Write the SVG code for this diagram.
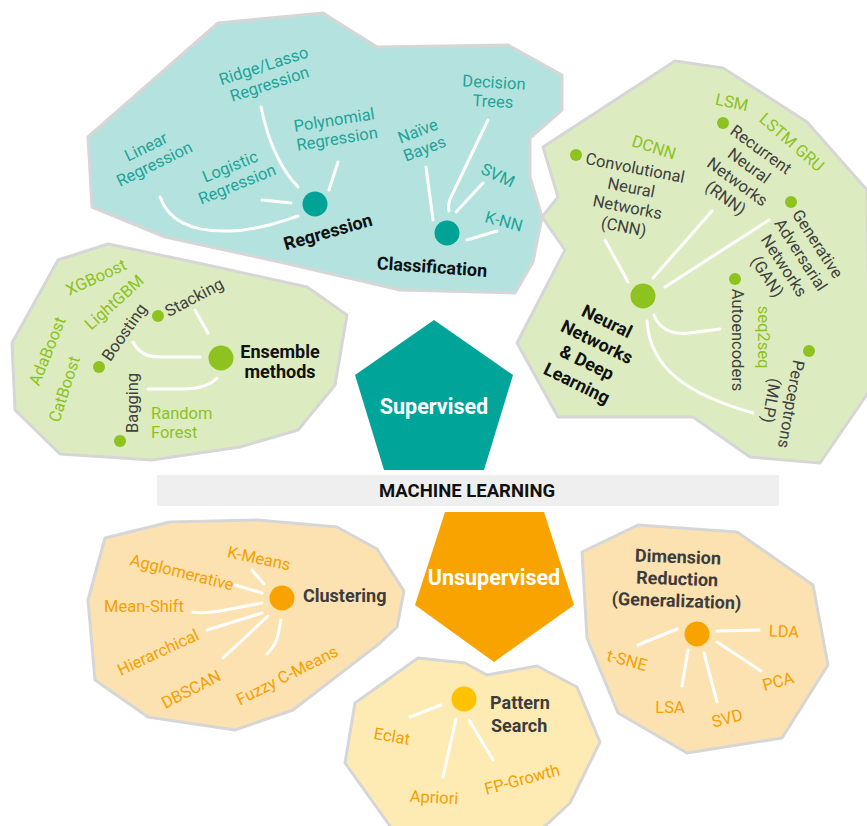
<svg xmlns="http://www.w3.org/2000/svg" width="867" height="826" viewBox="0 0 867 826">
<style>
.rg{stroke:#d6d6d6;stroke-width:3;stroke-linejoin:round}
.teal{fill:#b4e3df}.grn{fill:#ddecc0}.org{fill:#fde2b1}.yel{fill:#feebb3}
.ln{stroke:#fff;stroke-width:3;fill:none;stroke-linecap:round}
text{font-family:Roboto,"Liberation Sans",sans-serif;font-size:16.5px}
.tt{fill:#1fa398}.tg{fill:#8cc21f}.td{fill:#404040}.to{fill:#f5a000}
.b{font-weight:bold;font-size:18px;fill:#111}
.bd{font-weight:bold;font-size:18px;fill:#3c3c3c}
.m{text-anchor:middle}
.w{font-weight:bold;font-size:21.5px;fill:#fff;text-anchor:middle}
</style>
<rect width="867" height="826" fill="#fff"/>
<g id="regions">
<polygon class="rg teal" points="88,137 218,23 323,13 377,47 508,45 562,75 562,110 530,138 530,177 542,217 533,262 515,293 400,290 280,262 165,237 92,207"/>
<polygon class="rg grn" points="543,147 675,61 723,68 807,122 867,190 870,390 820,463 750,457 693,417 558,417 517,343 565,250 542,217 558,197"/>
<polygon class="rg grn" points="12,343 58,260 108,244 198,263 307,287 347,315 335,385 298,430 240,447 152,460 60,454 15,410"/>
<polygon class="rg org" points="105,538 170,522 257,520 337,527 377,549 404,591 397,627 380,643 293,710 235,730 148,717 95,680 88,600"/>
<polygon class="rg yel" points="355,703 418,658 465,663 487,675 537,666 577,687 600,742 570,803 530,840 400,840 345,763"/>
<polygon class="rg org" points="582,552 638,525 737,532 813,585 828,665 782,738 687,753 618,713 587,638"/>
</g>
<g id="connectors">
<path class="ln" d="M160,197 C170,225 200,232 230,231 C260,230 285,220 298,216"/>
<path class="ln" d="M262,200 L291,203"/>
<path class="ln" d="M261,107 Q272,160 298,187"/>
<path class="ln" d="M338,162 L329,190"/>
<path class="ln" d="M426,167 L433,220"/>
<path class="ln" d="M488,120 L452,195 Q447,205 449,211"/>
<path class="ln" d="M483,183 L456,212"/>
<path class="ln" d="M497,231 L467,240"/>
<path class="ln" d="M605,240 L628,282"/>
<path class="ln" d="M712,211 L653,278"/>
<path class="ln" d="M769,220 L665,287"/>
<path class="ln" d="M654,315 Q662,336 690,333 L720,329"/>
<path class="ln" d="M647,321 C650,370 690,395 753,413"/>
<path class="ln" d="M195,310 L208,333"/>
<path class="ln" d="M133,342 Q140,357 160,357 L200,357"/>
<path class="ln" d="M148,389 L185,389 Q208,388 217,378"/>
<path class="ln" d="M252,570 L264,584"/>
<path class="ln" d="M235,585 L262,593"/>
<path class="ln" d="M193,612 Q205,614 225,610 L262,603"/>
<path class="ln" d="M207,630 L262,613"/>
<path class="ln" d="M223,658 L268,616"/>
<path class="ln" d="M267,654 Q276,645 278,635 L281,620"/>
<path class="ln" d="M410,717 L441,705"/>
<path class="ln" d="M443,777 L456,719"/>
<path class="ln" d="M493,760 L469,720"/>
<path class="ln" d="M717,631 L759,630"/>
<path class="ln" d="M638,645 L677,629"/>
<path class="ln" d="M688,650 L682,686"/>
<path class="ln" d="M704,653 L717,702"/>
<path class="ln" d="M717,642 L761,671"/>
</g>
<g id="supervised">
<polygon points="434,320 513,375 484,470 384,470 355,375" fill="#00a499"/>
<text class="w" x="434" y="414">Supervised</text>
</g>
<g id="machine-learning">
<rect x="157" y="475" width="622" height="31" fill="#efefef"/>
<text x="467" y="497" text-anchor="middle" style="font-weight:bold;font-size:18.5px;fill:#111">MACHINE LEARNING</text>
</g>
<g id="unsupervised">
<polygon points="445,512 544,512 574,605 494,662 415,605" fill="#f8a300"/>
<text class="w" x="494" y="585">Unsupervised</text>
</g>
<g id="regression">
<circle cx="315" cy="204" r="12.5" fill="#00a396"/>
<text class="b m" transform="translate(328,232) rotate(-16)" y="6">Regression</text>
<text class="tt m" transform="translate(150,155) rotate(-26)"><tspan x="0" y="-3.5">Linear</tspan><tspan x="0" y="15.5">Regression</tspan></text>
<text class="tt m" transform="translate(266.5,74.5) rotate(-18)"><tspan x="0" y="-3.5">Ridge/Lasso</tspan><tspan x="0" y="15.5">Regression</tspan></text>
<text class="tt m" transform="translate(335.5,129) rotate(-9)"><tspan x="0" y="-3.5">Polynomial</tspan><tspan x="0" y="15.5">Regression</tspan></text>
<text class="tt m" transform="translate(233.5,175) rotate(-22)"><tspan x="0" y="-3.5">Logistic</tspan><tspan x="0" y="15.5">Regression</tspan></text>
</g>
<g id="classification">
<circle cx="447" cy="233" r="12.5" fill="#00a396"/>
<text class="b m" transform="translate(432,267) rotate(4)" y="6">Classification</text>
<text class="tt m" transform="translate(421,139.5) rotate(-21)"><tspan x="0" y="-3.5">Naïve</tspan><tspan x="0" y="15.5">Bayes</tspan></text>
<text class="tt m" transform="translate(493.5,91.5) rotate(3)"><tspan x="0" y="-3.5">Decision</tspan><tspan x="0" y="15.5">Trees</tspan></text>
<text class="tt m" transform="translate(498,175) rotate(25)" y="6">SVM</text>
<text class="tt m" transform="translate(504,221) rotate(15)" y="6">K-NN</text>
</g>
<g id="neural-networks">
<circle cx="643" cy="296" r="12.5" fill="#8dc21f"/>
<text class="b m" transform="translate(592,352) rotate(26)"><tspan x="0" y="-28">Neural</tspan><tspan x="0" y="-5">Networks</tspan><tspan x="0" y="18">&amp; Deep</tspan><tspan x="0" y="41">Learning</tspan></text>
<circle cx="576" cy="155" r="6" fill="#8dc21f"/>
<text class="td m" transform="translate(629.5,197) rotate(11)"><tspan x="0" y="-24">Convolutional</tspan><tspan x="0" y="-4">Neural</tspan><tspan x="0" y="16">Networks</tspan><tspan x="0" y="36">(CNN)</tspan></text>
<circle cx="723" cy="123" r="6" fill="#8dc21f"/>
<text class="td m" transform="translate(743.5,173.5) rotate(36)"><tspan x="0" y="-24">Recurrent</tspan><tspan x="0" y="-4">Neural</tspan><tspan x="0" y="16">Networks</tspan><tspan x="0" y="36">(RNN)</tspan></text>
<circle cx="791" cy="202" r="6" fill="#8dc21f"/>
<text class="td m" transform="translate(792.75,260) rotate(57)"><tspan x="0" y="-24">Generative</tspan><tspan x="0" y="-4">Adversarial</tspan><tspan x="0" y="16">Networks</tspan><tspan x="0" y="36">(GAN)</tspan></text>
<circle cx="735" cy="279" r="6" fill="#8dc21f"/>
<text class="td m" transform="translate(738,340) rotate(90)" y="6">Autoencoders</text>
<circle cx="809" cy="351" r="6" fill="#8dc21f"/>
<text class="td m" transform="translate(781.5,402.5) rotate(100)"><tspan x="0" y="-4">Perceptrons</tspan><tspan x="0" y="16">(MLP)</tspan></text>
<text class="tg m" transform="translate(764,337) rotate(90)" y="6">seq2seq</text>
<text class="tg m" transform="translate(654,147) rotate(18)" y="6">DCNN</text>
<text class="tg m" transform="translate(732,102) rotate(12)" y="6">LSM</text>
<text class="tg m" transform="translate(792,142) rotate(41)" y="6">LSTM GRU</text>
</g>
<g id="ensemble">
<circle cx="221" cy="358" r="12.5" fill="#8dc21f"/>
<text class="b m" x="280" y="358">Ensemble</text>
<text class="b m" x="280" y="378">methods</text>
<circle cx="158" cy="316" r="6" fill="#8dc21f"/>
<text class="td m" transform="translate(194,297) rotate(-28)" y="6">Stacking</text>
<circle cx="99" cy="367" r="6" fill="#8dc21f"/>
<text class="td m" transform="translate(124,332) rotate(-55)" y="6">Boosting</text>
<circle cx="120" cy="441" r="6" fill="#8dc21f"/>
<text class="td m" transform="translate(132,403) rotate(-90)" y="6">Bagging</text>
<text class="tg m" transform="translate(96,277) rotate(-25)" y="6">XGBoost</text>
<text class="tg m" transform="translate(114,302) rotate(-42)" y="6">LightGBM</text>
<text class="tg m" transform="translate(47,351) rotate(-68)" y="6">AdaBoost</text>
<text class="tg m" transform="translate(64,389) rotate(-72)" y="6">CatBoost</text>
<text class="tg" x="151" y="419">Random</text>
<text class="tg" x="151" y="438">Forest</text>
</g>
<g id="clustering">
<circle cx="282" cy="598" r="12.5" fill="#f8a300"/>
<text class="bd" x="303" y="602">Clustering</text>
<text class="to m" transform="translate(259,558) rotate(12)" y="6">K-Means</text>
<text class="to m" transform="translate(182,572) rotate(14)" y="6">Agglomerative</text>
<text class="to m" x="144" y="612">Mean-Shift</text>
<text class="to m" transform="translate(158,652) rotate(-25)" y="6">Hierarchical</text>
<text class="to m" transform="translate(191,689) rotate(-27)" y="6">DBSCAN</text>
<text class="to m" transform="translate(287,675) rotate(-27)" y="6">Fuzzy C-Means</text>
</g>
<g id="pattern-search">
<circle cx="464" cy="699" r="12.5" fill="#fdc200"/>
<text class="bd" x="490" y="709">Pattern</text>
<text class="bd" x="491" y="732">Search</text>
<text class="to m" transform="translate(392,736) rotate(10)" y="6">Eclat</text>
<text class="to m" transform="translate(434,797) rotate(3)" y="6">Apriori</text>
<text class="to m" transform="translate(522,779) rotate(-15)" y="6">FP-Growth</text>
</g>
<g id="dimension-reduction">
<circle cx="697" cy="634" r="12.5" fill="#f8a300"/>
<text class="bd m" transform="translate(677,585) rotate(2)"><tspan x="0" y="-22">Dimension</tspan><tspan x="0" y="0">Reduction</tspan><tspan x="0" y="22">(Generalization)</tspan></text>
<text class="to m" transform="translate(784,631) rotate(3)" y="6">LDA</text>
<text class="to m" transform="translate(627,660) rotate(15)" y="6">t-SNE</text>
<text class="to m" x="670" y="713">LSA</text>
<text class="to m" transform="translate(727,718) rotate(-15)" y="6">SVD</text>
<text class="to m" transform="translate(778,681) rotate(-15)" y="6">PCA</text>
</g>
</svg>
